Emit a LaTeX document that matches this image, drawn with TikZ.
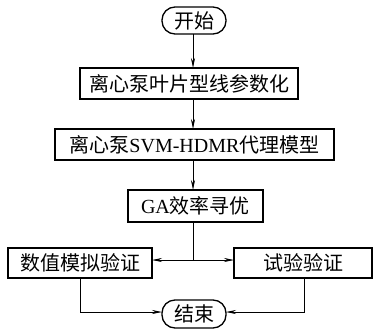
\documentclass[tikz,border=0pt]{standalone}
\usepackage{fontspec}
\setmainfont{Liberation Serif}
\newfontfamily\cjk{Noto Sans CJK SC}
\usetikzlibrary{arrows.meta}
\begin{document}
\begin{tikzpicture}[x=1pt,y=-1pt,
  every node/.style={font=\fontsize{20}{23}\selectfont, inner sep=0pt, outer sep=0pt},
  box/.style={draw, line width=1.3pt, rectangle},
  term/.style={draw, line width=1.3pt, rectangle, rounded corners=13pt},
  conn/.style={line width=0.8pt},
  arr/.style={conn, -{Stealth[length=10pt,width=4pt]}}]
\useasboundingbox (0,0) rectangle (374,329);
\node[term, minimum width=64pt, minimum height=27pt] (start) at (194,20.5) {\cjk 开始};
\node[box, minimum width=218pt, minimum height=31pt] (p1) at (189,83.5) {\cjk 离心泵叶片型线参数化};
\node[box, minimum width=279pt, minimum height=31pt] (p2) at (194.5,144.5) {{\cjk 离心泵}SVM-HDMR{\cjk 代理模型}};
\node[box, minimum width=135pt, minimum height=32pt] (ga) at (195.5,206) {GA{\cjk 效率寻优}};
\node[box, minimum width=144pt, minimum height=30pt] (num) at (80,263) {\cjk 数值模拟验证};
\node[box, minimum width=138pt, minimum height=30pt] (exp) at (303,263) {\cjk 试验验证};
\node[term, minimum width=64pt, minimum height=28pt] (end) at (194,314) {\cjk 结束};
\coordinate (ax) at (193,0);
\coordinate (jn) at (193,260);
\coordinate (lx) at (80,312);
\coordinate (rx) at (304,312);
\draw[arr] (start.south -| ax) -- (p1.north -| ax);
\draw[arr] (p1.south -| ax) -- (p2.north -| ax);
\draw[arr] (p2.south -| ax) -- (ga.north -| ax);
\draw[conn] (ga.south -| ax) -- (jn);
\draw[arr] (jn) -- (num.east |- jn);
\draw[arr] (jn) -- (exp.west |- jn);
\draw[arr] (num.south -| lx) -- (lx) -- (end.west |- lx);
\draw[arr] (exp.south -| rx) -- (rx) -- (end.east |- rx);
\end{tikzpicture}
\end{document}
